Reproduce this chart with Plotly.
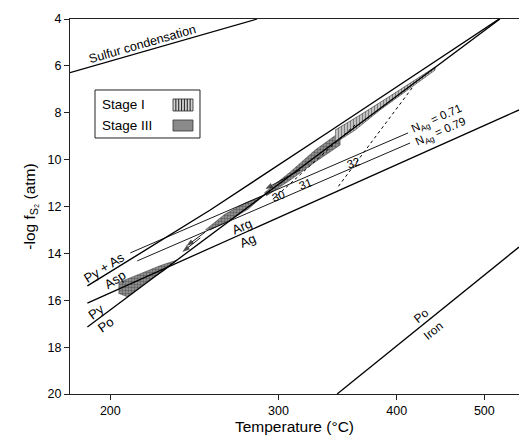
import plotly.graph_objects as go

# ---------------- data (temperature in °C, -log fS2 in atm) ----------------
t_range = [181.0, 548.3]
f_range = [20, 4]
x_tick_temps = [200, 300, 400, 500]
y_ticks = [4, 6, 8, 10, 12, 14, 16, 18, 20]

sulfur_t = [181.0, 285.0]
sulfur_f = [6.29, 4.0]

pyas_t = [189.0, 254.7, 339.8, 520.0]
pyas_f = [15.39, 12.15, 8.78, 4.0]

pypo_t = [189.0, 521.0]
pypo_f = [17.14, 4.0]

argag_t = [189.0, 548.3]
argag_f = [16.12, 7.88]

poiron_t = [345.6, 548.3]
poiron_f = [20.0, 13.73]

nag071_t = [210.0, 411.5]
nag071_f = [13.98, 8.86]

nag079_t = [213.6, 413.6]
nag079_f = [14.32, 9.29]

dot1_t = [415.7, 345.6]
dot1_f = [6.94, 11.21]

dot2_t = [361.1, 295.5]
dot2_f = [8.52, 11.72]

stage3a_t = [204.0, 215.2, 226.0, 235.3, 228.6, 217.8, 208.5, 204.0]
stage3a_f = [15.25, 14.86, 14.52, 14.28, 14.70, 15.25, 15.85, 15.70]

stage3b_t = [251.7, 264.0, 277.0, 289.9, 279.0, 265.9, 254.7]
stage3b_f = [13.0, 12.32, 11.85, 11.51, 12.11, 12.62, 13.0]

stage3c_t = [289.9, 308.6, 327.7, 348.1, 348.1, 327.7, 308.6, 291.3]
stage3c_f = [11.42, 10.53, 9.59, 8.82, 9.38, 10.10, 10.87, 11.55]

stage1_t = [343.9, 365.5, 393.5, 418.8, 440.4, 440.4, 413.6, 383.9, 361.1, 343.9]
stage1_f = [8.74, 8.10, 7.29, 6.60, 6.05, 6.18, 6.94, 7.88, 8.74, 9.29]

# arrows: (tail T, tail f, head T, head f)
arrow_tail_t = [316.0, 251.7, 248.7]
arrow_tail_f = [10.44, 13.09, 13.34]
arrow_head_t = [290.6, 240.5, 238.2]
arrow_head_f = [11.25, 13.69, 13.94]

# labels: text, T, f, angle, size
label_text = ["Sulfur condensation", "Py + As", "Asp", "Py", "Po", "Arg", "Ag",
              "30", "31", "32", "N<sub>Ag</sub> = 0.71", "N<sub>Ag</sub> = 0.79",
              "Po", "Iron"]
label_t = [216.5, 197.1, 202.5, 193.2, 198.0, 275.0, 279.0,
           299.8, 319.9, 359.3, 442.7, 447.2, 425.1, 438.2]
label_f = [5.05, 14.62, 15.13, 16.46, 17.05, 12.87, 13.47,
           11.55, 11.04, 10.14, 8.27, 8.82, 16.67, 17.31]
label_angle = [-16, -32, -32, -36, -36, -24, -24,
               -20, -20, -20, -24, -24, -39, -39]
label_size = [12.5, 13, 13, 13, 13, 13, 13, 11.5, 11.5, 11.5, 11.5, 11.5, 12, 12]

legend_names = ["Stage I", "Stage III"]


def kx(t):
    """temperature (°C) -> reciprocal-temperature axis coordinate 1000/T(K)"""
    if isinstance(t, (list, tuple)):
        return [1000.0 / (v + 273.15) for v in t]
    return 1000.0 / (t + 273.15)


FONT = "Liberation Sans, Arial, Helvetica, sans-serif"
fig = go.Figure()


def add_line(t, f, width=1.3, dash="solid", color="black"):
    fig.add_trace(go.Scatter(x=kx(t), y=f, mode="lines",
                             line=dict(color=color, width=width, dash=dash),
                             hoverinfo="skip", showlegend=False, cliponaxis=True))


# shaded stages
for t, f in [(stage3a_t, stage3a_f), (stage3b_t, stage3b_f), (stage3c_t, stage3c_f)]:
    fig.add_trace(go.Scatter(x=kx(t), y=f, mode="lines", fill="toself",
                             line=dict(color="#444", width=0.6),
                             fillcolor="#8c8c8c",
                             fillpattern=dict(shape=".", fgcolor="#222", bgcolor="#9c9c9c",
                                              size=3, solidity=0.5),
                             hoverinfo="skip", showlegend=False))
fig.add_trace(go.Scatter(x=kx(stage1_t), y=stage1_f, mode="lines", fill="toself",
                         line=dict(color="#333", width=0.6),
                         fillcolor="white",
                         fillpattern=dict(shape="|", fgcolor="#222", bgcolor="#d8d8d8",
                                          size=3, solidity=0.5),
                         hoverinfo="skip", showlegend=False))

add_line(sulfur_t, sulfur_f, 1.1)
add_line(pyas_t, pyas_f, 1.4)
add_line(pypo_t, pypo_f, 1.3)
add_line(argag_t, argag_f, 1.3)
add_line(poiron_t, poiron_f, 1.3)
add_line(nag071_t, nag071_f, 0.9)
add_line(nag079_t, nag079_f, 0.9)
add_line(dot1_t, dot1_f, 1.0, "dot")
add_line(dot2_t, dot2_f, 1.0, "dot")

# arrows as line segments with an arrow marker at the head
for tt, tf, ht, hf in zip(arrow_tail_t, arrow_tail_f, arrow_head_t, arrow_head_f):
    fig.add_trace(go.Scatter(x=kx([tt, ht]), y=[tf, hf], mode="lines+markers",
                             line=dict(color="black", width=0.9),
                             marker=dict(symbol=["circle", "arrow"], size=[0, 8],
                                         angleref="previous", color="black",
                                         line=dict(width=0)),
                             hoverinfo="skip", showlegend=False))

annotations = []
for txt, t, f, ang, sz in zip(label_text, label_t, label_f, label_angle, label_size):
    annotations.append(dict(x=kx(t), y=f, xref="x", yref="y", text=txt, showarrow=False,
                            textangle=ang, font=dict(family=FONT, size=sz, color="black"),
                            xanchor="center", yanchor="middle"))

# legend box (paper coordinates)
lx0, lx1, ly0, ly1 = 0.0557, 0.2895, 0.6827, 0.8107
text_y = [0.7707, 0.7147]
sw_y = [(0.7547, 0.7867), (0.7013, 0.7307)]
sw_x = (0.2294, 0.2739)
shapes = [dict(type="rect", xref="paper", yref="paper", x0=lx0, x1=lx1, y0=ly0, y1=ly1,
               line=dict(color="#222", width=1), fillcolor="white", layer="above")]
for name, ty in zip(legend_names, text_y):
    annotations.append(dict(x=lx0 + 0.012, y=ty, xref="paper", yref="paper", text=name,
                            showarrow=False, xanchor="left", yanchor="middle",
                            font=dict(family=FONT, size=13.5, color="black")))
# Stage I swatch (vertical hatch)
shapes.append(dict(type="rect", xref="paper", yref="paper", x0=sw_x[0], x1=sw_x[1],
                   y0=sw_y[0][0], y1=sw_y[0][1], line=dict(color="#222", width=0.8),
                   fillcolor="#d0d0d0", layer="above"))
n_hatch = 7
for i in range(1, n_hatch):
    xx = sw_x[0] + (sw_x[1] - sw_x[0]) * i / n_hatch
    shapes.append(dict(type="line", xref="paper", yref="paper", x0=xx, x1=xx,
                       y0=sw_y[0][0], y1=sw_y[0][1], line=dict(color="#222", width=1),
                       layer="above"))
# Stage III swatch
shapes.append(dict(type="rect", xref="paper", yref="paper", x0=sw_x[0], x1=sw_x[1],
                   y0=sw_y[1][0], y1=sw_y[1][1], line=dict(color="#333", width=0.8),
                   fillcolor="#8a8a8a", layer="above"))

fig.update_layout(
    width=519, height=439,
    margin=dict(l=70, r=0, t=19, b=45),
    paper_bgcolor="white", plot_bgcolor="white",
    font=dict(family=FONT, color="black"),
    annotations=annotations, shapes=shapes,
    xaxis=dict(range=[kx(t_range[0]), kx(t_range[1])],
               tickvals=kx(x_tick_temps), ticktext=[str(v) for v in x_tick_temps],
               ticks="outside", ticklen=5, tickcolor="#222", tickwidth=1,
               showline=True, linecolor="#222", linewidth=1.2, mirror=True,
               showgrid=False, zeroline=False,
               tickfont=dict(size=12.5, family=FONT),
               title=dict(text="Temperature (°C)", font=dict(size=15.5, family=FONT), standoff=4)),
    yaxis=dict(range=f_range, tickvals=y_ticks,
               ticks="outside", ticklen=5, tickcolor="#222", tickwidth=1,
               showline=True, linecolor="#222", linewidth=1.2,
               showgrid=False, zeroline=False,
               tickfont=dict(size=12.5, family=FONT),
               title=dict(text="-log f<sub>S₂</sub> (atm)", font=dict(size=15.5, family=FONT),
                          standoff=8)),
)

fig.write_html("out.html", config={"displayModeBar": False},
               post_script="document.body.style.margin='0';")
